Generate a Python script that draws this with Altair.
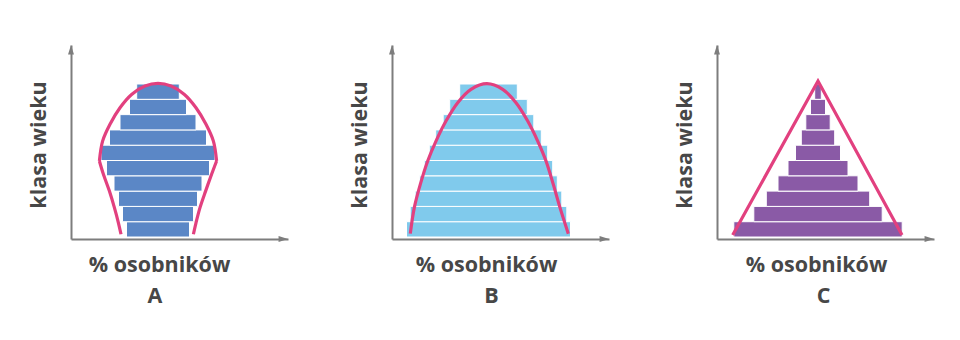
import altair as alt
import pandas as pd

# age classes, bottom (youngest) -> top (oldest)
classes = list(range(10))

# bar widths (% osobników, relative units), bottom -> top
widths_A = [31.5, 35.5, 39.5, 44.0, 51.5, 57.0, 48.5, 38.0, 28.5, 21.3]
widths_B = [82.0, 78.3, 73.3, 68.8, 64.2, 59.2, 52.8, 45.3, 38.8, 28.8]
widths_C = [84.2, 64.2, 51.7, 40.0, 30.0, 22.5, 16.7, 12.2, 7.5, 3.3]

# outline curves (x in % units around the centre, y in age classes)
curve_A_seg = [0] * 6 + [1] * 13 + [2] * 6
curve_A_x = [-18.5, -19.8, -21.8, -24.3, -27.3, -29.3,
             -29.3, -27.7, -24.0, -19.0, -13.2, -6.5, 0.0, 6.5, 13.2, 19.0, 24.0, 27.7, 29.3,
             29.3, 26.8, 23.8, 21.0, 19.0, 17.7]
curve_A_y = [0.18, 0.93, 1.92, 3.0, 4.1, 4.97,
             4.97, 6.27, 7.37, 8.45, 9.32, 9.87, 10.04, 9.87, 9.32, 8.45, 7.37, 6.27, 4.97,
             4.97, 4.1, 3.0, 1.92, 0.93, 0.18]

curve_B_seg = [0] * 17
curve_B_x = [-39.1, -37.1, -34.1, -30.4, -26.25, -21.25, -15.4, -8.75, -0.75,
             7.1, 13.75, 19.6, 24.6, 28.75, 32.4, 35.75, 39.9]
curve_B_y = [0.22, 1.92, 3.44, 4.97, 6.27, 7.58, 8.78, 9.65, 10.02,
             9.65, 8.78, 7.58, 6.27, 4.97, 3.44, 1.92, 0.22]

curve_C_seg = [0, 0, 0]
curve_C_x = [-42.65, 0.0, 42.0]
curve_C_y = [0.13, 10.2, 0.13]

letters = ["A", "B", "C"]
x_title = "% osobników"
y_title = "klasa wieku"

FONT = "Open Sans"
TXT = "#474747"
AXIS = "#7d7d7d"
PINK = "#e2407f"
W, H = 217, 194


def panel(widths, xs, ys, seg, color, interp, letter, xdom, tx, ldx):
    bars = pd.DataFrame({"klasa": classes, "w": widths})
    curve = pd.DataFrame({"x": xs, "y": ys, "seg": seg, "i": list(range(len(xs)))})
    xs_ = alt.Scale(domain=xdom, nice=False, zero=False)
    ys_ = alt.Scale(domain=[-0.13, 12.55], nice=False, zero=False)

    b = alt.Chart(bars).transform_calculate(
        x1="-datum.w/2", x2="datum.w/2", y1="datum.klasa", y2="datum.klasa+1"
    ).mark_rect(color=color, stroke="white", strokeWidth=1).encode(
        x=alt.X("x1:Q", scale=xs_, axis=alt.Axis(title=x_title, titleX=tx, titleY=32)),
        x2="x2:Q",
        y=alt.Y("y1:Q", scale=ys_, axis=alt.Axis(title=y_title, titleX=-26, titleY=99.5)),
        y2="y2:Q",
    )
    c = alt.Chart(curve).mark_line(
        color=PINK, strokeWidth=3.2, interpolate=interp, strokeJoin="miter", strokeCap="butt"
    ).encode(
        x=alt.X("x:Q", scale=xs_),
        y=alt.Y("y:Q", scale=ys_),
        detail="seg:N",
        order="i:Q",
    )
    one = pd.DataFrame({"a": [0]})
    up = alt.Chart(one).mark_point(
        shape="M0,-1L0.62,1L-0.62,1Z", filled=True, size=90, color=AXIS, opacity=1, strokeWidth=0
    ).encode(x=alt.value(0), y=alt.value(4.7))
    right = alt.Chart(one).mark_point(
        shape="M1,0L-1,-0.62L-1,0.62Z", filled=True, size=90, color=AXIS, opacity=1, strokeWidth=0
    ).encode(x=alt.value(W - 4.7), y=alt.value(H))
    return alt.layer(b, c, up, right).properties(
        width=W,
        height=H,
        title=alt.TitleParams(
            letter, orient="bottom", anchor="middle", dx=ldx, offset=10,
            font=FONT, fontSize=21.5, fontWeight="bold", color=TXT,
        ),
    )


pA = panel(widths_A, curve_A_x, curve_A_y, curve_A_seg, "#5b87c6", "catmull-rom",
           letters[0], [-43.5, 65], 88, -24.5)
pB = panel(widths_B, curve_B_x, curve_B_y, curve_B_seg, "#80caec", "catmull-rom",
           letters[1], [-48.25, 60.25], 94, -9)
pC = panel(widths_C, curve_C_x, curve_C_y, curve_C_seg, "#8a5aa6", "linear",
           letters[2], [-50.5, 58], 99, -2)

chart = alt.hconcat(pA, alt.hconcat(pB, pC, spacing=64), spacing=60).configure_view(
    stroke=None
).configure_axis(
    domain=True, domainColor=AXIS, domainWidth=2, ticks=False, labels=False, grid=False,
    titleFont=FONT, titleFontSize=21.5, titleFontWeight="bold", titleColor=TXT,
    titleAlign="center", titleBaseline="alphabetic",
).properties(
    padding={"left": 28, "top": 44, "right": 5, "bottom": 5}, background="white"
)

chart.save("out.html", embed_options={"renderer": "svg", "actions": False})
